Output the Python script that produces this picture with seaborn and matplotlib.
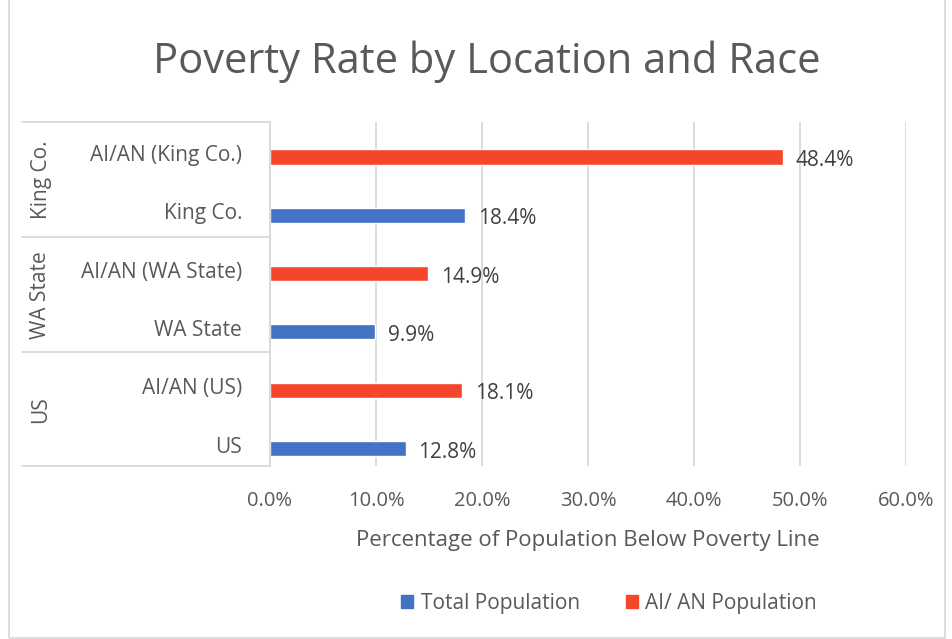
import pandas as pd
import matplotlib.pyplot as plt
import seaborn as sns
from matplotlib.patches import Rectangle
from matplotlib.lines import Line2D
from matplotlib.transforms import ScaledTranslation

# data, top to bottom as in the chart
labels = ["AI/AN (King Co.)", "King Co.", "AI/AN (WA State)", "WA State", "AI/AN (US)", "US"]
values = [48.4, 18.4, 14.9, 9.9, 18.1, 12.8]
series = ["AI/ AN Population", "Total Population"] * 3
groups = ["King Co.", "WA State", "US"]
xticks = [0, 10, 20, 30, 40, 50, 60]

colors = {"Total Population": "#4472C4", "AI/ AN Population": "#F4462B"}
text_c = "#595959"
line_c = "#D9D9D9"

df = pd.DataFrame({"label": labels, "value": values, "series": series})

sns.set_style("white")
plt.rcParams["font.family"] = ["Open Sans", "DejaVu Sans"]

fig = plt.figure(figsize=(9.52, 6.39), dpi=100)
ax = fig.add_axes([270 / 952, 1 - 466 / 639, (906 - 270) / 952, (466 - 122) / 639])

sns.barplot(data=df, y="label", x="value", hue="series", order=labels,
            palette=colors, dodge=False, width=0.26, saturation=1,
            ax=ax, legend=False)

ax.set_xlim(0, 60)
ax.set_ylim(5.3, -0.6)
ax.set_xticks(xticks)
ax.set_xticklabels([f"{t:.1f}%" for t in xticks], fontsize=14.5, color=text_c)
ax.tick_params(axis="x", length=0, pad=18)
ax.set_yticks(range(len(labels)))
ax.set_yticklabels(labels, fontsize=15, color=text_c)
ax.tick_params(axis="y", length=0, pad=20)
# nudge category labels up a few pixels, like the original
shift = ScaledTranslation(0, 4 / 100, fig.dpi_scale_trans)
for t in ax.get_yticklabels():
    t.set_transform(t.get_transform() + shift)
ax.grid(axis="x", color=line_c, linewidth=1.3)
ax.set_axisbelow(True)
for s in ["top", "right", "bottom"]:
    ax.spines[s].set_visible(False)
ax.spines["left"].set_color(line_c)
ax.spines["left"].set_linewidth(1.3)
ax.set_ylabel("")
ax.set_xlabel("Percentage of Population Below Poverty Line", fontsize=16,
              color=text_c, labelpad=14)

# data labels
for i, v in enumerate(values):
    ax.text(v + 1.2, i + 0.06, f"{v:.1f}%", va="center", ha="left",
            fontsize=15, color="#404040")

# grouped category axis drawn as table lines
x_left = 22 / 952
x_right = 270 / 952
for yp in [122, 237, 352, 466]:
    fig.add_artist(Line2D([x_left, x_right], [1 - yp / 639, 1 - yp / 639],
                          color=line_c, linewidth=1.3))
for g, yp in zip(groups, [180, 295, 410]):
    fig.text(41 / 952, 1 - yp / 639, g, rotation=90, ha="center", va="center",
             fontsize=15, color=text_c)

# chart frame
fig.add_artist(Rectangle((9 / 952, 0.002), 936 / 952, 1.2, fill=False,
                         edgecolor=line_c, linewidth=1.3))

fig.text(487 / 952, 1 - 62 / 639, "Poverty Rate by Location and Race",
         ha="center", va="center", fontsize=30, color=text_c)

handles = [Rectangle((0, 0), 1, 1, color=colors[k]) for k in ["Total Population", "AI/ AN Population"]]
fig.legend(handles, ["Total Population", "AI/ AN Population"], loc="center",
           bbox_to_anchor=(609 / 952, 1 - 603 / 639), ncol=2, frameon=False,
           fontsize=15, labelcolor=text_c, handlelength=0.6, handleheight=0.6,
           handletextpad=0.35, columnspacing=2.2)

fig.savefig("out.png", dpi=100)
